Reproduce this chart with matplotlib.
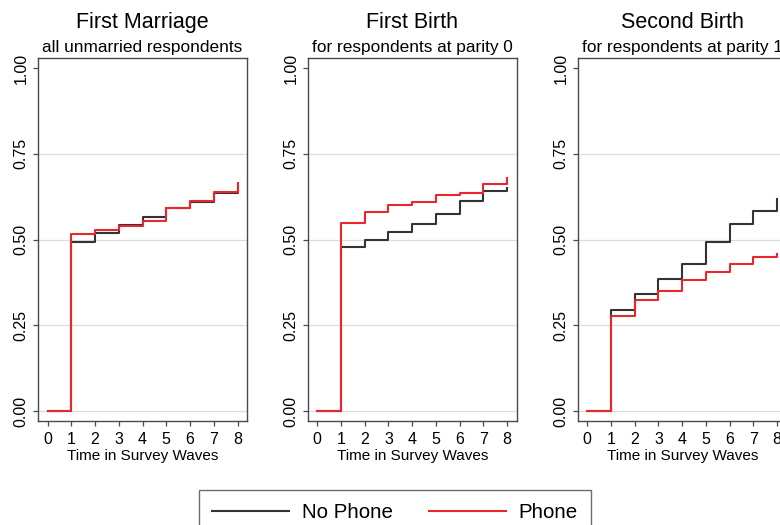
import matplotlib
matplotlib.use("Agg")
import matplotlib.pyplot as plt
from matplotlib.lines import Line2D

plt.rcParams['font.family'] = ['Liberation Sans', 'DejaVu Sans']

waves = [0, 1, 2, 3, 4, 5, 6, 7, 8]

# cumulative failure estimates per survey wave
marriage_nophone = [0, 0.494, 0.518, 0.542, 0.567, 0.591, 0.610, 0.636, 0.655]
marriage_phone = [0, 0.516, 0.528, 0.539, 0.555, 0.593, 0.613, 0.638, 0.666]
first_birth_nophone = [0, 0.477, 0.500, 0.522, 0.545, 0.573, 0.613, 0.642, 0.650]
first_birth_phone = [0, 0.549, 0.579, 0.601, 0.608, 0.629, 0.636, 0.662, 0.678]
second_birth_nophone = [0, 0.294, 0.340, 0.385, 0.430, 0.494, 0.544, 0.584, 0.617]
second_birth_phone = [0, 0.278, 0.324, 0.351, 0.382, 0.406, 0.429, 0.448, 0.458]

titles = ['First Marriage', 'First Birth', 'Second Birth']
subtitles = ['all unmarried respondents', 'for respondents at parity 0',
             'for respondents at parity 1']
series = [(marriage_nophone, marriage_phone),
          (first_birth_nophone, first_birth_phone),
          (second_birth_nophone, second_birth_phone)]

yticks = [0, 0.25, 0.5, 0.75, 1.0]
ytick_labels = ['0.00', '0.25', '0.50', '0.75', '1.00']

BLACK = '#333333'
RED = '#e8262e'
FRAME = '#4a4a4a'

W, H = 780, 525
fig = plt.figure(figsize=(W / 100, H / 100), dpi=100)

lefts = [38, 307.7, 577.7]
ax_w, ax_top, ax_bot = 209, 58, 421

for left, title, sub, (nophone, phone) in zip(lefts, titles, subtitles, series):
    ax = fig.add_axes([left / W, 1 - ax_bot / H, ax_w / W, (ax_bot - ax_top) / H])
    for y in yticks[:-1]:
        ax.axhline(y, color='#dcdcdc', lw=0.9, zorder=0)
    ax.step(waves, nophone, where='post', color=BLACK, lw=1.5)
    ax.step(waves, phone, where='post', color=RED, lw=1.5)

    ax.set_xlim(-0.4, 8.4)
    ax.set_ylim(-0.029, 1.029)
    ax.set_xticks(waves)
    ax.set_yticks(yticks)
    ax.set_yticklabels(ytick_labels, rotation=90, va='center')
    ax.tick_params(axis='both', direction='out', length=3.6, width=0.9,
                   color=FRAME, labelsize=11.5, pad=3.0)
    ax.tick_params(axis='x', pad=4.0)
    for s in ax.spines.values():
        s.set_color(FRAME)
        s.set_linewidth(1.0)

    ax.text(0.5, 1.082, title, transform=ax.transAxes, ha='center',
            va='baseline', fontsize=15.5)
    ax.text(0.5, 1.017, sub, transform=ax.transAxes, ha='center',
            va='baseline', fontsize=12.4)
    ax.set_xlabel('Time in Survey Waves', fontsize=11, va='baseline')
    ax.xaxis.set_label_coords(0.5, -0.107)

handles = [Line2D([], [], color=BLACK, lw=1.5),
           Line2D([], [], color=RED, lw=1.5)]
leg = fig.legend(handles, ['No Phone', 'Phone'], loc='upper left',
                 bbox_to_anchor=(199 / W, 1 - 490 / H), ncol=2, fontsize=14.8,
                 frameon=True, fancybox=False, handlelength=3.75,
                 handletextpad=0.6, columnspacing=1.75, borderpad=0.65,
                 borderaxespad=0)
leg.get_frame().set_edgecolor(FRAME)
leg.get_frame().set_linewidth(1.0)

fig.savefig('out.png', dpi=100)
